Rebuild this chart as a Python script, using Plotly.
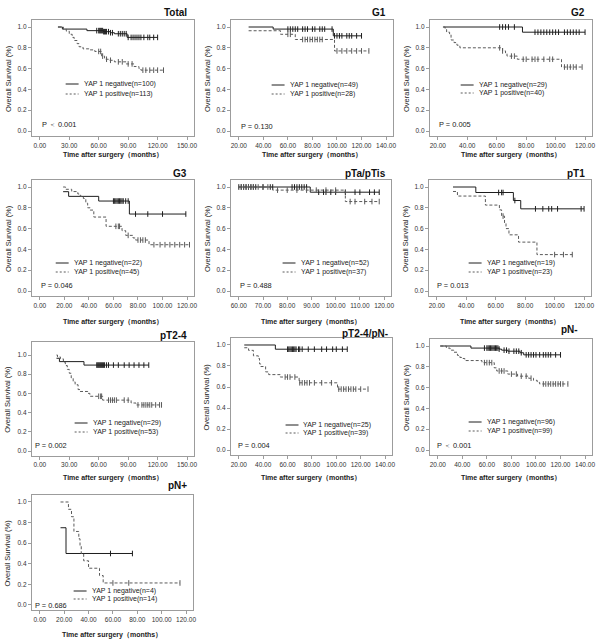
import plotly.graph_objects as go

W, H = 600, 642
FONT = "Arial, 'Liberation Sans', sans-serif"
NEG_COLOR = "#1e1e1e"
POS_COLOR = "#5a5a5a"
BOX_COLOR = "#9c9c9c"
TEXT_COLOR = "#333333"

# ---- survival data (time in months, survival fraction)
TOTAL_NEG_T = [18.5, 23, 48, 65, 72, 76, 89]
TOTAL_NEG_S = [1.0, 0.98, 0.965, 0.955, 0.945, 0.935, 0.90]
TOTAL_NEG_C = [58, 60, 61, 62, 63, 64, 65, 66, 67, 68, 70, 72, 74, 80, 82, 84, 86, 88,
               90, 93, 95, 97, 99, 101, 103, 106, 110, 112, 116, 120]
TOTAL_POS_T = [18.5, 24, 27, 30, 33, 35, 38, 40, 44, 50, 56, 63, 66, 70, 76, 88, 96, 101, 103]
TOTAL_POS_S = [1.0, 0.98, 0.96, 0.93, 0.90, 0.87, 0.84, 0.81, 0.79, 0.78, 0.765, 0.72,
               0.69, 0.68, 0.665, 0.645, 0.62, 0.60, 0.585]
TOTAL_POS_C = [60, 62, 64, 68, 72, 80, 84, 90, 94, 105, 108, 112, 116, 120, 126]

G1_NEG_T = [28, 48, 97]
G1_NEG_S = [1.0, 0.98, 0.915]
G1_NEG_C = [60, 62, 64, 66, 68, 72, 74, 76, 80, 82, 86, 88, 90, 96, 98, 100, 102, 104,
            108, 110, 112, 116, 120]
G1_POS_T = [28, 54, 66, 98]
G1_POS_S = [0.964, 0.93, 0.88, 0.77]
G1_POS_C = [60, 62, 72, 74, 76, 78, 80, 82, 84, 86, 88, 100, 104, 108, 112, 116, 120, 126]

G2_NEG_T = [23.5, 77.5]
G2_NEG_S = [1.0, 0.95]
G2_NEG_C = [62, 64, 66, 68, 72, 86, 88, 90, 92, 94, 96, 98, 100, 102, 106, 108, 110, 112,
            114, 116, 120]
G2_POS_T = [24, 25, 26, 28, 29, 31, 33, 35, 64, 66, 67, 74, 104]
G2_POS_S = [1.0, 0.975, 0.95, 0.925, 0.875, 0.85, 0.825, 0.80, 0.77, 0.745, 0.72, 0.69, 0.615]
G2_POS_C = [62, 64, 70, 72, 78, 80, 84, 86, 88, 92, 96, 98, 106, 108, 110, 112, 114, 118]

G3_NEG_T = [19, 23.5, 48, 73]
G3_NEG_S = [0.955, 0.91, 0.865, 0.74]
G3_NEG_C = [60, 61, 62, 63, 64, 65, 66, 67, 68, 70, 72, 78, 88, 100, 119]
G3_POS_T = [19, 21, 26, 31, 33, 35.5, 37.5, 39, 41, 44, 54, 67, 70, 76, 78, 89]
G3_POS_S = [1.0, 0.978, 0.956, 0.933, 0.911, 0.889, 0.844, 0.80, 0.778, 0.711, 0.622,
            0.58, 0.535, 0.51, 0.49, 0.445]
G3_POS_C = [62, 64, 65, 72, 80, 82, 84, 86, 93, 98, 102, 106, 110, 114, 118, 122]

PTA_NEG_T = [60, 89.5]
PTA_NEG_S = [1.0, 0.95]
PTA_NEG_C = [60, 61, 62, 63, 64, 65, 66, 67, 70, 73, 74, 82, 83, 84, 85, 86, 87, 88, 93,
             95, 96, 98, 100, 104, 108, 110, 114, 116, 118]
PTA_POS_T = [60, 74, 104]
PTA_POS_S = [1.0, 0.97, 0.86]
PTA_POS_C = [61, 62, 63, 64, 65, 66, 68, 70, 72, 76, 80, 84, 88, 92, 96, 100, 106, 108,
             112, 115, 118]

PT1_NEG_T = [31, 46.5, 72, 77]
PT1_NEG_S = [1.0, 0.947, 0.87, 0.79]
PT1_NEG_C = [62, 64, 65, 73, 87, 92, 96, 98, 102, 118, 120]
PT1_POS_T = [31, 34, 53, 62.5, 64, 66, 67, 69, 75.5, 88]
PT1_POS_S = [0.957, 0.913, 0.826, 0.78, 0.72, 0.65, 0.60, 0.54, 0.47, 0.35]
PT1_POS_C = [65, 100, 106, 112]

PT24_NEG_T = [17, 20, 45]
PT24_NEG_S = [0.966, 0.931, 0.895]
PT24_NEG_C = [58, 59, 60, 61, 62, 63, 64, 65, 66, 68, 70, 75, 80, 86, 91, 96, 101, 106, 111]
PT24_POS_T = [17, 18, 21, 24, 26, 28, 30, 32, 34, 36, 39, 41, 49, 51, 64, 93, 98]
PT24_POS_S = [1.0, 0.98, 0.96, 0.925, 0.89, 0.85, 0.81, 0.76, 0.72, 0.69, 0.64, 0.62,
              0.60, 0.57, 0.53, 0.50, 0.48]
PT24_POS_C = [60, 62, 63, 70, 72, 74, 76, 78, 86, 90, 100, 104, 106, 108, 110, 112, 114,
              118, 122, 124]

PT24N_NEG_T = [24.5, 50]
PT24N_NEG_S = [1.0, 0.96]
PT24N_NEG_C = [60, 61, 62, 63, 64, 65, 66, 67, 69, 70, 72, 77, 82, 88, 92, 97, 100, 105, 109]
PT24N_POS_T = [24.5, 28, 32, 36, 37, 38, 42, 44.5, 54, 69.5, 101]
PT24N_POS_S = [0.974, 0.949, 0.897, 0.872, 0.82, 0.795, 0.744, 0.718, 0.695, 0.64, 0.58]
PT24N_POS_C = [58, 60, 62, 66, 70, 72, 74, 76, 78, 82, 88, 96, 102, 104, 106, 108, 110,
               112, 114, 116, 120, 126]

PNN_NEG_T = [22, 47, 70, 72, 77, 87, 90]
PNN_NEG_S = [1.0, 0.98, 0.97, 0.96, 0.95, 0.935, 0.915]
PNN_NEG_C = [58, 60, 61, 62, 63, 64, 65, 66, 67, 68, 69, 70, 74, 76, 78, 82, 84, 86, 88,
             92, 94, 96, 98, 100, 103, 106, 108, 110, 112, 116, 120]
PNN_POS_T = [22, 27, 30, 33, 36, 38, 40, 42, 56, 66, 68, 77, 85, 94, 98, 101, 103]
PNN_POS_S = [1.0, 0.98, 0.96, 0.94, 0.91, 0.89, 0.88, 0.86, 0.84, 0.79, 0.76, 0.73, 0.71,
             0.69, 0.67, 0.65, 0.635]
PNN_POS_C = [58, 60, 62, 64, 70, 72, 74, 80, 84, 88, 92, 96, 106, 108, 110, 112, 114, 116,
             118, 120, 122, 126]

PNP_NEG_T = [17, 21.5]
PNP_NEG_S = [0.75, 0.50]
PNP_NEG_C = [58, 76]
PNP_POS_T = [17, 23.5, 26, 28, 32, 33, 34, 36, 40, 49, 52]
PNP_POS_S = [1.0, 0.929, 0.857, 0.714, 0.643, 0.571, 0.50, 0.429, 0.357, 0.286, 0.214]
PNP_POS_C = [60, 73, 115]

# ---- labels
TITLES = ["Total", "G1", "G2", "G3", "pTa/pTis", "pT1", "pT2-4", "pT2-4/pN-", "pN-", "pN+"]
N_NEG = [100, 49, 29, 22, 52, 19, 29, 25, 96, 4]
N_POS = [113, 28, 40, 45, 37, 23, 53, 39, 99, 14]
P_TEXT = ["P ＜ 0.001", "P = 0.130", "P = 0.005", "P = 0.046", "P = 0.488",
          "P = 0.013", "P = 0.002", "P = 0.004", "P ＜ 0.001", "P = 0.686"]
X_TICKS = [
    [0, 30, 60, 90, 120, 150],
    [20, 40, 60, 80, 100, 120, 140],
    [20, 40, 60, 80, 100, 120],
    [0, 20, 40, 60, 80, 100, 120],
    [60, 70, 80, 90, 100, 110, 120],
    [20, 40, 60, 80, 100, 120],
    [0, 30, 60, 90, 120, 150],
    [20, 40, 60, 80, 100, 120, 140],
    [20, 40, 60, 80, 100, 120, 140],
    [0, 20, 40, 60, 80, 100, 120],
]
Y_TICKS = [0.0, 0.2, 0.4, 0.6, 0.8, 1.0]
X_LABEL = "Time after surgery（months）"
Y_LABEL = "Overall Survival (%)"

CURVES = [
    (TOTAL_NEG_T, TOTAL_NEG_S, TOTAL_NEG_C, TOTAL_POS_T, TOTAL_POS_S, TOTAL_POS_C),
    (G1_NEG_T, G1_NEG_S, G1_NEG_C, G1_POS_T, G1_POS_S, G1_POS_C),
    (G2_NEG_T, G2_NEG_S, G2_NEG_C, G2_POS_T, G2_POS_S, G2_POS_C),
    (G3_NEG_T, G3_NEG_S, G3_NEG_C, G3_POS_T, G3_POS_S, G3_POS_C),
    (PTA_NEG_T, PTA_NEG_S, PTA_NEG_C, PTA_POS_T, PTA_POS_S, PTA_POS_C),
    (PT1_NEG_T, PT1_NEG_S, PT1_NEG_C, PT1_POS_T, PT1_POS_S, PT1_POS_C),
    (PT24_NEG_T, PT24_NEG_S, PT24_NEG_C, PT24_POS_T, PT24_POS_S, PT24_POS_C),
    (PT24N_NEG_T, PT24N_NEG_S, PT24N_NEG_C, PT24N_POS_T, PT24N_POS_S, PT24N_POS_C),
    (PNN_NEG_T, PNN_NEG_S, PNN_NEG_C, PNN_POS_T, PNN_POS_S, PNN_POS_C),
    (PNP_NEG_T, PNP_NEG_S, PNP_NEG_C, PNP_POS_T, PNP_POS_S, PNP_POS_C),
]

# ---- panel geometry in pixels: box left/right, y pixel of 1.0 and 0.0, top padding
BOXES = [
    (32, 195, 27, 131, 0.067), (232, 395, 27, 131, 0.067), (432, 595, 27, 131, 0.067),
    (32, 195, 187, 291, 0.067), (232, 393, 187, 291, 0.067), (431, 594, 187, 291, 0.067),
    (32, 195, 355, 451, 0.136), (232, 394, 345, 450, 0.067), (432, 595, 346, 450, 0.067),
    (32, 194, 502, 605, 0.067),
]
TITLE_POS = [(190, 12), (390, 12), (590, 12), (190, 174), (390, 174), (590, 174),
             (190, 335), (392, 333), (583, 330), (190, 485)]
LEGEND_POS = [(82, 84, 94), (289, 85, 94), (479, 85, 93), (72, 263, 272), (300, 263, 272),
              (487, 263, 272), (91, 423, 432), (303, 425, 433), (487, 422, 431),
              (90, 591, 599)]
P_POS = [(40, 124), (240, 126), (439, 125), (39, 286), (239, 286), (437, 286),
         (33, 445), (237, 445), (437, 445), (33, 605)]
XLABEL_Y = [155, 155, 155, 322, 322, 322, 478, 478, 478, 635]


def px(x):
    return x / W


def py(y):
    return 1 - y / H


def surv_at(times, surv, t):
    value = surv[0]
    for ti, si in zip(times, surv):
        if ti <= t:
            value = si
    return value


fig = go.Figure()
annotations = []
shapes = []
layout_axes = {}

for i, (curves, box) in enumerate(zip(CURVES, BOXES)):
    neg_t, neg_s, neg_c, pos_t, pos_s, pos_c = curves
    left, right, y1, y0, top_pad = box
    scale = y0 - y1
    top = y1 - top_pad * scale
    bottom = y0 + 0.048 * scale
    ticks = X_TICKS[i]
    span = ticks[-1] - ticks[0]
    ppu = (right - left - 15) / span
    xr = [ticks[0] - 8 / ppu, ticks[-1] + 7 / ppu]

    suffix = "" if i == 0 else str(i + 1)
    xa, ya = "x" + suffix, "y" + suffix

    for t, s, c, color, dash in [
        (neg_t, neg_s, neg_c, NEG_COLOR, "solid"),
        (pos_t, pos_s, pos_c, POS_COLOR, "3px,2px"),
    ]:
        end = max([t[-1]] + c)
        fig.add_trace(go.Scatter(
            x=t + [end], y=s + [s[-1]], mode="lines", line_shape="hv",
            line={"color": color, "width": 1, "dash": dash},
            xaxis=xa, yaxis=ya, showlegend=False, hoverinfo="skip",
        ))
        fig.add_trace(go.Scatter(
            x=c, y=[surv_at(t, s, v) for v in c], mode="markers",
            marker={"symbol": "line-ns", "size": 4,
                    "line": {"color": color, "width": 1}},
            xaxis=xa, yaxis=ya, showlegend=False, hoverinfo="skip",
        ))

    axis_style = dict(
        showline=True, mirror=True, linecolor=BOX_COLOR, linewidth=1,
        ticks="outside", ticklen=3, tickcolor=BOX_COLOR, showgrid=False,
        zeroline=False, tickfont={"size": 6.5, "color": TEXT_COLOR, "family": FONT},
    )
    layout_axes["xaxis" + suffix] = dict(
        axis_style, domain=[px(left), px(right)], range=xr, anchor=ya,
        tickvals=ticks, tickformat=".2f",
    )
    layout_axes["yaxis" + suffix] = dict(
        axis_style, domain=[py(bottom), py(top)], range=[-0.048, 1 + top_pad],
        anchor=xa, tickvals=Y_TICKS, tickformat=".1f",
    )

    tx, tyy = TITLE_POS[i]
    annotations.append(dict(
        text="<b>" + TITLES[i] + "</b>", x=px(tx), y=py(tyy), xref="paper", yref="paper",
        xanchor="right", yanchor="middle", showarrow=False,
        font={"size": 10, "color": "#111", "family": FONT},
    ))
    annotations.append(dict(
        text="<b>" + X_LABEL + "</b>", x=px((left + right) / 2), y=py(XLABEL_Y[i]),
        xref="paper", yref="paper", xanchor="center", yanchor="middle", showarrow=False,
        font={"size": 7, "color": "#222", "family": FONT},
    ))
    annotations.append(dict(
        text=Y_LABEL, x=px(left - 24), y=py((top + bottom) / 2), xref="paper",
        yref="paper", xanchor="center", yanchor="middle", textangle=-90,
        showarrow=False, font={"size": 7.5, "color": "#222", "family": FONT},
    ))
    lx, ly_neg, ly_pos = LEGEND_POS[i]
    for label, n, ly, color, dash in [
        ("YAP 1 negative", N_NEG[i], ly_neg, NEG_COLOR, "solid"),
        ("YAP 1 positive", N_POS[i], ly_pos, POS_COLOR, "dash"),
    ]:
        annotations.append(dict(
            text=f"{label}(n={n})", x=px(lx), y=py(ly), xref="paper", yref="paper",
            xanchor="left", yanchor="middle", showarrow=False,
            font={"size": 7, "color": "#222", "family": FONT},
        ))
        shapes.append(dict(
            type="line", xref="paper", yref="paper", x0=px(lx - 16), x1=px(lx - 3),
            y0=py(ly), y1=py(ly), line={"color": color, "width": 1,
                                        "dash": "solid" if dash == "solid" else "2px,2px"},
        ))
    ppx, ppy = P_POS[i]
    annotations.append(dict(
        text=P_TEXT[i], x=px(ppx), y=py(ppy), xref="paper", yref="paper",
        xanchor="left", yanchor="middle", showarrow=False,
        font={"size": 7.4, "color": "#222", "family": FONT},
    ))

fig.update_layout(
    width=W, height=H, margin={"l": 0, "r": 0, "t": 0, "b": 0},
    paper_bgcolor="white", plot_bgcolor="white",
    font={"family": FONT}, showlegend=False,
    annotations=annotations, shapes=shapes, **layout_axes,
)
# drop the browser's default page margin so the 600x642 figure fills the window
fig.write_html(
    "out.html",
    config={"displayModeBar": False},
    post_script="document.body.style.margin='0';",
)
